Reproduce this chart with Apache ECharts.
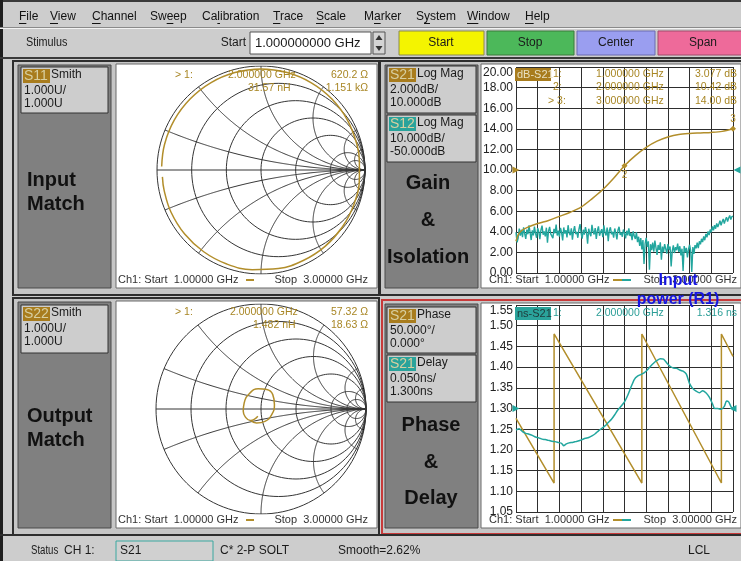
<!DOCTYPE html>
<html><head><meta charset="utf-8">
<script src="https://cdn.jsdelivr.net/npm/echarts@6/dist/echarts.min.js"></script>
<style>html,body{margin:0;padding:0;background:#cdcdcd;}#c{width:741px;height:561px;}</style>
</head><body><div id="c"></div>
<script>
// ---------------- DATA ----------------
const sweepStartGHz = 1, sweepStopGHz = 3;
// Smith chart graticule (normalized resistance / reactance values)
const smithR = [0.2, 0.5, 1, 2, 5, 10];
const smithX = [0.2, 0.5, 1, 2, 5, 10];
// S11 reflection coefficient trace (re, im)
const s11Gamma = [[-0.955,0.034],[-0.927,0.248],[-0.833,0.481],[-0.682,0.682],[-0.484,0.838],[-0.251,0.937],[0,0.972],[0.251,0.937],[0.484,0.838],[0.682,0.682],[0.831,0.48],[0.922,0.247],[0.946,0.083],[0.946,-0.083],[0.895,-0.326],[0.782,-0.548],[0.616,-0.734],[0.406,-0.870],[0.167,-0.947],[-0.084,-0.958],[-0.329,-0.904],[-0.551,-0.786],[-0.734,-0.616],[-0.866,-0.404],[-0.931,-0.198],[-0.948,-0.066]];
// S22 reflection coefficient trace (re, im)
const s22Gamma = [[-0.03,-0.07],[-0.10,-0.11],[-0.150,-0.075],[-0.169,-0.022],[-0.160,0.058],[-0.105,0.153],[-0.026,0.192],[0.054,0.185],[0.112,0.137],[0.128,0.042],[0.102,-0.054],[0.038,-0.118],[-0.042,-0.134],[-0.100,-0.110]];
// S21 log magnitude (dB)
const s21Freq = [1.00,1.02,1.05,1.10,1.20,1.30,1.40,1.50,1.60,1.70,1.80,1.90,2.00,2.10,2.20,2.30,2.40,2.50,2.60,2.70,2.80,2.90,3.00];
const s21dB   = [3.08,3.70,4.10,4.40,4.80,5.10,5.50,5.90,6.40,7.20,8.10,9.20,10.42,11.40,12.20,12.80,13.20,13.45,13.55,13.60,13.65,13.75,14.00];
// S12 log magnitude (dB), 201 sweep points 1..3 GHz
const s12dB = [-80.2,-85.1,-83.0,-78.4,-81.9,-79.0,-82.6,-77.8,-80.9,-83.4,
 -78.9,-81.2,-76.9,-80.4,-84.0,-79.3,-81.7,-77.5,-80.8,-82.9,
 -78.2,-80.0,-83.6,-79.1,-77.0,-81.4,-79.8,-82.2,-78.0,-85.3,
 -79.6,-77.6,-81.0,-80.1,-83.1,-78.6,-80.7,-76.5,-81.8,-79.4,
 -82.4,-78.1,-80.3,-84.2,-77.9,-80.9,-79.2,-82.7,-76.8,-80.5,
 -81.6,-78.3,-83.8,-79.7,-77.2,-81.1,-80.0,-82.9,-78.8,-76.3,
 -80.6,-83.3,-79.0,-81.4,-77.7,-80.2,-85.8,-78.5,-80.8,-82.1,
 -76.6,-79.9,-81.3,-78.2,-83.5,-79.4,-77.4,-81.9,-80.1,-78.7,
 -82.6,-76.9,-80.4,-81.8,-78.0,-84.6,-79.3,-77.8,-81.2,-80.0,
 -82.8,-78.4,-80.7,-83.7,-79.1,-77.6,-81.5,-80.3,-82.4,-78.9,
 -80.8,-83.2,-79.5,-81.7,-78.3,-82.0,-80.6,-84.1,-79.8,-81.9,
 -83.5,-80.2,-85.0,-82.4,-86.8,-83.1,-88.5,-84.0,-95.6,-85.7,
 -82.9,-87.3,-84.6,-98.4,-86.0,-88.9,-85.2,-89.6,-84.3,-87.7,
 -91.2,-86.4,-88.8,-85.1,-93.5,-87.2,-89.9,-86.0,-88.3,-90.6,
 -85.9,-88.7,-87.1,-96.8,-89.4,-86.6,-90.3,-87.5,-88.9,-85.7,
 -89.8,-87.0,-91.5,-88.2,-99.0,-86.9,-90.0,-87.8,-92.4,-88.6,
 -86.3,-89.1,-99.5,-87.4,-90.7,-86.5,-88.0,-85.2,-87.9,-84.6,
 -86.1,-83.4,-85.0,-82.2,-84.1,-81.0,-82.7,-79.8,-81.6,-78.9,
 -80.2,-77.4,-79.3,-76.8,-78.5,-75.9,-77.7,-76.2,-74.6,-76.9,
 -75.1,-73.8,-76.0,-74.2,-72.9,-75.0,-73.3,-72.1,-74.0,-72.6,
 -72.4];
// S21 phase (deg, wrapped)
const phaseFreq = [1.000,1.351,1.351,2.160,2.160,2.893,2.893,3.000];
const phaseDeg  = [-24,-180,180,-180,180,-180,180,126];
// S21 group delay (ns)
const delayFreq = [1.00,1.03,1.06,1.09,1.12,1.15,1.18,1.21,1.24,1.27,1.30,1.33,1.36,1.39,1.42,1.44,1.46,1.49,1.52,1.55,1.58,1.61,1.64,1.67,1.70,1.73,1.76,1.79,1.82,1.85,1.88,1.91,1.94,1.97,2.00,2.03,2.06,2.09,2.12,2.15,2.18,2.21,2.24,2.27,2.30,2.33,2.36,2.39,2.42,2.45,2.48,2.51,2.54,2.57,2.60,2.63,2.66,2.69,2.72,2.75,2.78,2.81,2.83,2.86,2.89,2.92,2.94,2.96,2.98,3.00];
const delayNs   = [1.248,1.251,1.244,1.240,1.238,1.235,1.231,1.229,1.226,1.225,1.223,1.221,1.220,1.218,1.216,1.210,1.214,1.217,1.218,1.220,1.222,1.225,1.228,1.230,1.234,1.239,1.246,1.252,1.258,1.266,1.274,1.285,1.297,1.306,1.316,1.332,1.352,1.370,1.378,1.382,1.386,1.393,1.402,1.410,1.416,1.420,1.419,1.410,1.402,1.398,1.397,1.393,1.390,1.383,1.360,1.348,1.342,1.338,1.343,1.338,1.328,1.312,1.300,1.300,1.298,1.305,1.318,1.316,1.305,1.296];
// menu items and the index of the underlined access letter
const menuItems = ['File','View','Channel','Sweep','Calibration','Trace','Scale','Marker','System','Window','Help'];
const menuKeys  = [0,0,0,2,2,0,0,1,1,0,0];

// ---------------- STYLE ----------------
const SANS = '"Liberation Sans", Arial, Helvetica, sans-serif';
const GOLD = '#b28e2b', TEAL = '#22a69e', GOLDBG = '#a87c1d', TEALBG = '#2aa39b';
const GRIDC = '#2e2e2e';

// ---------------- HELPERS ----------------
function smithPolys(){
  const polys = [];
  [0].concat(smithR).forEach(r => {
    const c = r/(1+r), rad = 1/(1+r), pts = [];
    for (let a = 0; a <= 360; a += 3) { const t = a*Math.PI/180; pts.push([c+rad*Math.cos(t), rad*Math.sin(t)]); }
    polys.push({coords: pts});
  });
  smithX.forEach(x0 => [x0, -x0].forEach(x => {
    const pts = [];
    for (let i = 0; i < 200; i++) {
      const t = i/200, r = t/(1-t);
      const D = (r+1)*(r+1) + x*x;
      pts.push([(r*r - 1 + x*x)/D, 2*x/D]);
    }
    pts.push([1, 0]);
    polys.push({coords: pts});
  }));
  polys.push({coords: [[-1,0],[1,0]]});
  return polys;
}
const G = [];
function rect(x,y,w,h,fill,stroke,lw,z){ G.push({type:'rect', silent:true, z:(z==null?-10:z), shape:{x:x,y:y,width:w,height:h}, style:{fill:fill||'none', stroke:stroke||'none', lineWidth:lw||1}}); }
function text(x,y,s,o){ o=o||{}; G.push({type:'text', silent:true, z:(o.z==null?100:o.z), x:x, y:y, scaleX:(o.sx||1), style:{text:s, fill:o.color||'#1a1a1a', font:(o.weight||'normal')+' '+(o.size||12)+'px '+SANS, textAlign:o.align||'left', textVerticalAlign:'middle'}}); }
function poly(pts,fill,z){ G.push({type:'polygon', silent:true, z:(z==null?-5:z), shape:{points:pts}, style:{fill:fill}}); }
const mctx = document.createElement('canvas').getContext('2d');
function measure(s,size){ mctx.font = size+'px '+SANS; return mctx.measureText(s).width; }

// ---------------- CHROME ----------------
rect(0,0,741,561,'#cdcdcd',null,0,-30);
rect(0,0,741,2,'#3a3a3a',null,0,-20);
rect(0,0,3,561,'#1e1e1e',null,0,-20);
// menu
const menuX = [19,50,92,150,202,273,316,364,416,467,525];
menuItems.forEach((m,i)=>{
  text(menuX[i],17,m,{size:12,color:'#111'});
  const k = menuKeys[i];
  const x0 = menuX[i] + measure(m.slice(0,k),12), w = measure(m.charAt(k),12);
  rect(x0,23,w,1,'#111',null,0,60);
});
rect(0,27,741,1,'#8a8a8a',null,0,-20); rect(0,28,741,1,'#f2f2f2',null,0,-20);
// stimulus bar
text(26,43,'Stimulus',{size:12,sx:0.9});
text(246,43,'Start',{size:12,align:'right'});
rect(250,32,121,22,'#ffffff','#555',1,-15);
text(255,43,'1.000000000 GHz',{size:13});
rect(373,32,12,22,'#d4d4d4','#555',1,-15);
poly([[379,35],[375.5,40],[382.5,40]],'#333',-4);
poly([[379,51],[375.5,46],[382.5,46]],'#333',-4);
rect(399,31,85,24,'#f4f400','#8a8a50',1,-15); text(441,43,'Start',{size:12,align:'center'});
rect(487,31,87,24,'#4cb85a','#3a7a3a',1,-15); text(530,43,'Stop',{size:12,align:'center'});
rect(577,31,78,24,'#9a9ef0','#6a6ab0',1,-15); text(616,43,'Center',{size:12,align:'center'});
rect(658,31,84,24,'#ee6a9a','#a04a6a',1,-15); text(703,43,'Span',{size:12,align:'center'});
rect(0,57,741,2,'#3a3a3a',null,0,-20);

// panels
rect(13,61,366,234,'#c6c6c6','#2e2e2e',2,-18);
rect(380,61,362,234,'#c6c6c6','#2e2e2e',2,-18);
rect(13,298,366,237,'#c6c6c6','#2e2e2e',2,-18);
rect(382,300,360,234,'#c6c6c6','#c83a3a',2,-18);
// gray columns
rect(18,65,93,223,'#808080','#4a4a4a',1,-16);
rect(385,65,93,223,'#808080','#4a4a4a',1,-16);
rect(18,302,93,226,'#808080','#4a4a4a',1,-16);
rect(385,304,93,224,'#808080','#4a4a4a',1,-16);
// white plot areas
rect(116,64,261,224,'#ffffff','#6a6a6a',1,-16);
rect(481,64,260,224,'#ffffff','#6a6a6a',1,-16);
rect(116,301,261,227,'#ffffff','#6a6a6a',1,-16);
rect(481,303,260,225,'#ffffff','#6a6a6a',1,-16);

// label boxes
function box(x,y,w,h,tag,tagBg,name,l1,l2){
  rect(x,y,w,h,'#cdcdcd','#333',1,-14);
  rect(x+2,y+2,27,14,tagBg,null,0,-12);
  text(x+3,y+9.5,tag,{size:14,color:'#d8cfa0'});
  text(x+30,y+8,name,{size:12});
  text(x+3,y+24,l1,{size:12});
  text(x+3,y+37,l2,{size:12});
}
box(21,67,87,46,'S11',GOLDBG,'Smith','1.000U/','1.000U');
box(21,305,87,48,'S22',GOLDBG,'Smith','1.000U/','1.000U');
box(387,66,89,47,'S21',GOLDBG,'Log Mag','2.000dB/','10.000dB');
box(387,115,89,47,'S12',TEALBG,'Log Mag','10.000dB/','-50.000dB');
box(387,307,89,46,'S21',GOLDBG,'Phase','50.000\u00b0/','0.000\u00b0');
box(387,355,89,47,'S21',TEALBG,'Delay','0.050ns/','1.300ns');

// big labels
const BIG={size:20,weight:'bold',color:'#111'};
text(27,180,'Input',BIG); text(27,204,'Match',BIG);
text(27,416,'Output',BIG); text(27,440,'Match',BIG);
text(428,183,'Gain',Object.assign({align:'center'},BIG)); text(428,220,'&',Object.assign({align:'center'},BIG)); text(428,257,'Isolation',Object.assign({align:'center'},BIG));
text(431,425,'Phase',Object.assign({align:'center'},BIG)); text(431,462,'&',Object.assign({align:'center'},BIG)); text(431,498,'Delay',Object.assign({align:'center'},BIG));

// smith annotations
const AG={size:10.5,color:'#a88624'};
text(175,75,'> 1:',AG); text(228,75,'2.000000 GHz',AG); text(368,75,'620.2 \u03a9',Object.assign({align:'right'},AG));
text(248,88,'31.57 nH',AG); text(368,88,'1.151 k\u03a9',Object.assign({align:'right'},AG));
text(175,312,'> 1:',AG); text(230,312,'2.000000 GHz',AG); text(368,312,'57.32 \u03a9',Object.assign({align:'right'},AG));
text(253,325,'1.482 nH',AG); text(368,325,'18.63 \u03a9',Object.assign({align:'right'},AG));
const CH={size:11,color:'#333'};
[[280,118,368,false],[520,118,368,false],[280,489,737,true],[520,489,737,true]].forEach(a=>{
  text(a[1],a[0],'Ch1: Start  1.00000 GHz',CH);
  text(a[2],a[0],'Stop  3.00000 GHz',Object.assign({align:'right'},CH));
  if(a[3]){ rect(613,a[0]-1,9,2,GOLD,null,0,50); rect(622,a[0]-1,9,2,TEAL,null,0,50); }
  else { rect(246,a[0]-1,8,2,GOLD,null,0,50); }
});
// rect-plot annotations
rect(515,68,36,13,GOLDBG,null,0,40); text(517,74.5,'dB-S21',{size:11,color:'#e8e0c0'});
text(553,74,'1:',AG); text(596,74,'1.000000 GHz',AG); text(737,74,'3.077 dB',Object.assign({align:'right'},AG));
text(553,87,'2:',AG); text(596,87,'2.000000 GHz',AG); text(737,87,'10.42 dB',Object.assign({align:'right'},AG));
text(548,101,'> 3:',AG); text(596,101,'3.000000 GHz',AG); text(737,101,'14.00 dB',Object.assign({align:'right'},AG));
const AT={size:10.5,color:'#2a9d96'};
rect(515,307,36,13,TEALBG,null,0,40); text(517,313.5,'ns-S21',{size:11,color:'#1e3a3a'});
text(553,313,'1:',AT); text(596,313,'2.000000 GHz',AT); text(737,313,'1.316 ns',Object.assign({align:'right'},AT));
// overlay text
text(678,281,'Input',{size:16,weight:'bold',color:'#1616e0',align:'center',z:200});
text(678,300,'power (R1)',{size:16,weight:'bold',color:'#1616e0',align:'center',z:200});

// status bar
rect(0,534,741,2,'#2e2e2e',null,0,-17);
text(31,551,'Status',{size:12,sx:0.8}); text(64,551,'CH 1:',{size:12});
rect(116,541,97,20,'#d0d0d0','#3aa8a0',1,-14); text(120,551,'S21',{size:12});
text(220,551,'C* 2-P SOLT',{size:12}); text(338,551,'Smooth=2.62%',{size:12}); text(688,551,'LCL',{size:12});

// ---------------- CHART ----------------
const s12Series = s12dB.map((v,i)=>[sweepStartGHz + i*(sweepStopGHz-sweepStartGHz)/(s12dB.length-1), v]);
const fmt2 = v => Number(v).toFixed(2);
const hid = (gi,min,max)=>({gridIndex:gi,type:'value',min:min,max:max,show:false});
const rectX = gi => ({gridIndex:gi,type:'value',min:sweepStartGHz,max:sweepStopGHz,interval:0.2,
  axisLine:{show:false},axisTick:{show:false},axisLabel:{show:false},
  splitLine:{show:true,lineStyle:{color:GRIDC,width:1}}});
const rectY = (gi,min,max,iv)=>({gridIndex:gi,type:'value',min:min,max:max,interval:iv,
  axisLine:{show:false},axisTick:{show:false},
  axisLabel:{formatter:fmt2,fontSize:12,color:'#222',margin:3,fontFamily:SANS,verticalAlignMaxLabel:'top'},
  splitLine:{show:true,lineStyle:{color:GRIDC,width:1}}});
const tri = (coord,color,rot)=>({coord:coord,symbol:'triangle',symbolSize:7,symbolRotate:rot,itemStyle:{color:color},label:{show:false}});

const option = {
  animation:false,
  backgroundColor:'transparent',
  graphic:{elements:G},
  grid:[
    {left:157,top:66,width:208,height:208},
    {left:156,top:304,width:210,height:210},
    {left:516,top:67,width:217,height:206},
    {left:516,top:305,width:217,height:207}
  ],
  xAxis:[hid(0,-1,1),hid(1,-1,1),rectX(2),rectX(3)],
  yAxis:[hid(0,-1,1),hid(1,-1,1),rectY(2,0,20,2),hid(2,-100,0),rectY(3,1.05,1.55,0.05),hid(3,-250,250)],
  series:[
    {type:'lines',coordinateSystem:'cartesian2d',xAxisIndex:0,yAxisIndex:0,polyline:true,silent:true,z:2,
      lineStyle:{color:'#353535',width:1,opacity:1},data:smithPolys()},
    {type:'lines',coordinateSystem:'cartesian2d',xAxisIndex:1,yAxisIndex:1,polyline:true,silent:true,z:2,
      lineStyle:{color:'#353535',width:1,opacity:1},data:smithPolys()},
    {type:'line',name:'S11',xAxisIndex:0,yAxisIndex:0,data:s11Gamma,smooth:0.4,showSymbol:false,z:4,
      lineStyle:{color:GOLD,width:1.5}},
    {type:'line',name:'S22',xAxisIndex:1,yAxisIndex:1,data:s22Gamma,smooth:0.5,showSymbol:false,z:4,
      lineStyle:{color:GOLD,width:1.5}},
    {type:'line',name:'S12',xAxisIndex:2,yAxisIndex:3,data:s12Series,showSymbol:false,z:4,
      lineStyle:{color:TEAL,width:1.4},
      markPoint:{silent:true,data:[tri([3,-50],TEAL,90)],symbolOffset:[4,0]}},
    {type:'line',name:'S21',xAxisIndex:2,yAxisIndex:2,data:s21Freq.map((f,i)=>[f,s21dB[i]]),smooth:0.3,showSymbol:false,z:5,
      lineStyle:{color:GOLD,width:1.5},
      markPoint:{silent:true,data:[tri([1,10],GOLD,-90),
        {coord:[2,10.42],symbol:'diamond',symbolSize:6,itemStyle:{color:GOLD},label:{show:true,formatter:'2',position:'bottom',color:GOLD,fontSize:10,distance:2}},
        {coord:[3,14],symbol:'diamond',symbolSize:6,itemStyle:{color:GOLD},label:{show:true,formatter:'3',position:'top',color:GOLD,fontSize:10,distance:2}}]}},
    {type:'line',name:'Phase',xAxisIndex:3,yAxisIndex:5,data:phaseFreq.map((f,i)=>[f,phaseDeg[i]]),showSymbol:false,z:4,
      lineStyle:{color:GOLD,width:1.5}},
    {type:'line',name:'Delay',xAxisIndex:3,yAxisIndex:4,data:delayFreq.map((f,i)=>[f,delayNs[i]]),smooth:0.2,showSymbol:false,z:5,
      lineStyle:{color:TEAL,width:1.5},
      markPoint:{silent:true,data:[tri([1,1.3],TEAL,-90),tri([3,1.3],TEAL,90)]}}
  ]
};
const chart = echarts.init(document.getElementById('c'),null,{renderer:'canvas'});
chart.setOption(option);
</script>
</body></html>
